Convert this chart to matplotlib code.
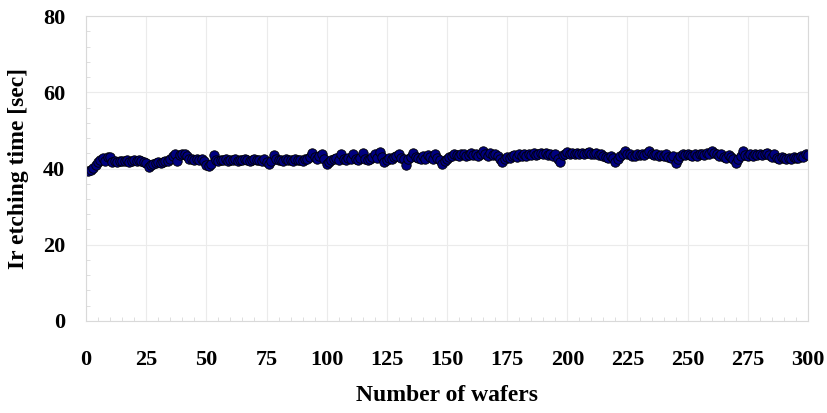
import numpy as np
import matplotlib.pyplot as plt
from matplotlib.ticker import MultipleLocator

# Ir etching time per wafer
etch_time = [
    39.4, 39.7, 40.2, 40.8, 41.6, 42.3, 42.8, 41.9, 42.9, 43.1,
    41.8, 42.0, 41.7, 42.1, 41.9, 42.0, 42.2, 41.8, 42.1, 42.3,
    41.9, 42.2, 42.0, 41.8, 41.5, 40.3, 40.9, 41.2, 41.4, 41.6,
    41.5, 41.8, 42.0, 41.9, 42.4, 43.4, 43.8, 42.1, 43.5, 43.9,
    43.7, 43.2, 42.4, 42.6, 42.3, 42.5, 42.2, 42.4, 42.0, 40.9,
    40.6, 41.3, 43.6, 42.3, 42.1, 42.3, 42.2, 42.4, 42.1, 42.3,
    42.2, 42.5, 42.1, 42.3, 42.2, 42.4, 42.2, 42.1, 42.3, 42.6,
    42.2, 42.3, 42.1, 42.4, 41.8, 41.2, 42.0, 43.6, 42.4, 42.2,
    42.3, 42.1, 42.4, 42.2, 42.3, 42.1, 42.5, 42.2, 42.3, 42.1,
    42.4, 42.6, 42.9, 44.2, 43.1, 42.5, 43.2, 43.7, 42.6, 41.2,
    41.6, 42.2, 42.4, 42.8, 42.3, 43.9, 42.5, 42.2, 42.8, 42.4,
    43.9, 42.5, 42.3, 42.8, 44.0, 42.4, 42.2, 42.6, 42.9, 43.8,
    42.7, 44.3, 43.1, 41.6, 42.3, 42.7, 42.5, 42.9, 43.2, 43.9,
    42.8, 42.4, 41.0, 42.6, 42.9, 44.0, 43.1, 42.7, 42.4, 43.2,
    42.6, 43.5, 42.9, 42.5, 43.9, 42.7, 42.3, 41.3, 42.1, 42.5,
    42.9, 43.4, 43.8, 43.5, 43.2, 43.7, 43.9, 43.4, 43.6, 44.0,
    43.5, 43.8, 43.3, 43.7, 44.6, 43.9, 43.4, 44.1, 43.6, 43.9,
    43.2, 42.5, 41.6, 42.6, 43.0, 42.8, 43.3, 43.5, 43.1, 43.7,
    43.4, 43.9, 43.2, 43.8, 43.5, 44.1, 43.6, 43.9, 44.2, 43.7,
    44.0, 43.6, 43.9, 43.4, 43.8, 42.6, 41.6, 43.5, 43.9, 44.3,
    43.8, 44.1, 43.7, 44.0, 43.9, 44.2, 43.8, 44.1, 44.3, 43.9,
    43.7, 44.0, 43.6, 43.8, 43.3, 43.1, 42.8, 43.4, 42.7, 41.8,
    42.6, 43.2, 43.9, 44.5, 43.7, 43.9, 43.4, 43.2, 43.8, 43.5,
    43.9, 43.6, 44.1, 44.7, 43.8, 43.5, 43.9, 43.2, 43.6, 43.3,
    43.7, 43.0, 42.7, 43.4, 41.4, 42.6, 43.4, 43.8, 43.5, 43.9,
    43.6, 43.2, 43.8, 43.4, 43.7, 43.9, 43.5, 44.0, 43.8, 44.5,
    44.1, 43.7, 43.3, 43.8, 43.0, 42.8, 43.5, 43.1, 42.4, 41.4,
    42.6, 43.2, 44.5, 43.6, 43.2, 43.7, 43.4, 43.8, 43.5, 43.9,
    43.6, 43.9, 44.0, 43.5, 43.1, 43.8, 42.8, 42.6, 42.9, 42.7,
    42.5, 42.8, 42.6, 42.9, 42.7, 42.8, 43.2, 42.9, 43.8, 43.5,
]
wafer = np.arange(1, len(etch_time) + 1)

plt.rcParams['font.family'] = 'Liberation Serif'
plt.rcParams['font.weight'] = 'bold'

fig = plt.figure(figsize=(8.27, 4.13), dpi=100)
ax = fig.add_axes([0.104, 0.223, 0.873, 0.738])

ax.plot(wafer, etch_time, color='black', lw=1.5, marker='o', ms=6.8,
        markerfacecolor='#000080', markeredgecolor='black', markeredgewidth=0.6)

ax.set_xlim(0, 300)
ax.set_ylim(0, 80)
ax.xaxis.set_major_locator(MultipleLocator(25))
ax.yaxis.set_major_locator(MultipleLocator(20))
ax.xaxis.set_minor_locator(MultipleLocator(5))
ax.yaxis.set_minor_locator(MultipleLocator(4))
ax.grid(True, which='major', color='#ebebeb', lw=0.8)
ax.set_axisbelow(True)

for s in ax.spines.values():
    s.set_color('#d9d9d9')
    s.set_linewidth(0.8)

ax.tick_params(axis='both', which='major', direction='in', length=0,
               labelsize=16, colors='black')
ax.tick_params(axis='x', which='major', pad=21)
ax.tick_params(axis='y', which='major', pad=15)
ax.tick_params(axis='both', which='minor', direction='in', length=3,
               color='#d9d9d9')
for lbl in ax.get_xticklabels() + ax.get_yticklabels():
    lbl.set_fontweight('bold')

ax.set_xlabel('Number of wafers', fontsize=17, fontweight='bold', labelpad=11)
ax.set_ylabel('Ir etching time [sec]', fontsize=17, fontweight='bold', labelpad=10)

fig.savefig('out.png', dpi=100)
